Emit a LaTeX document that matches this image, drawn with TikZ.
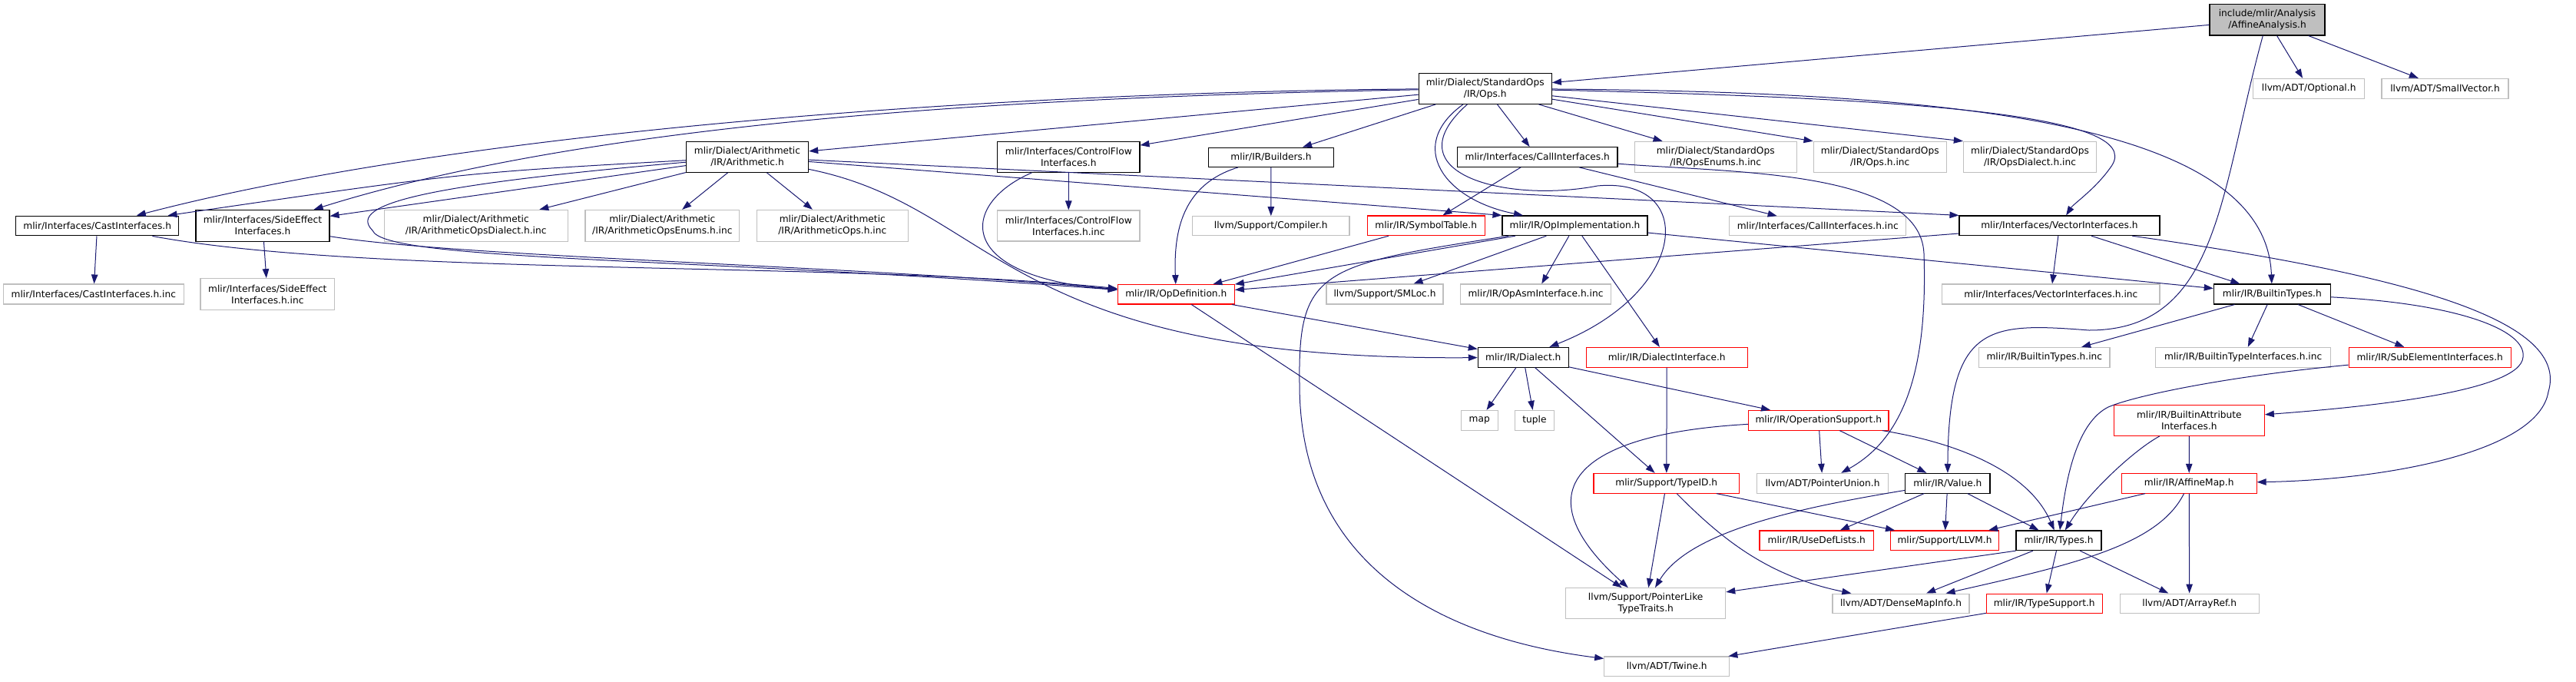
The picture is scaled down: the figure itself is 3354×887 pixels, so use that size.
\documentclass[tikz,border=0pt]{standalone}
\usepackage{fontspec}
\setmainfont{DejaVu Sans}
\usetikzlibrary{arrows.meta}
\definecolor{edgeblue}{RGB}{25,25,112}
\definecolor{leafgrey}{RGB}{191,191,191}
\definecolor{cutred}{RGB}{255,0,0}

\tikzset{
  hdr/.style={draw=black, fill=white, rectangle, inner sep=0pt, align=center,
    line width=1.1pt, font=\fontsize{12.2}{15}\selectfont},
  syshdr/.style={hdr, draw=leafgrey},
  cuthdr/.style={hdr, draw=cutred},
  roothdr/.style={hdr, fill=leafgrey},
  dep/.style={draw=edgeblue, line width=1pt, -{Triangle[length=12pt, width=8.5pt]}}
}

\begin{document}
\begin{tikzpicture}[x=1pt, y=-1pt]
  \useasboundingbox (0,0) rectangle (3354,887);

  \foreach \name/\x/\y/\w/\h/\kind/\txt in {
    aa/2952/25.8/150/40.3/roothdr/{include/mlir/Analysis\\/AffineAnalysis.h},
    ops/1933.7/115.2/173.3/40.3/hdr/{mlir/Dialect/StandardOps\\/IR/Ops.h},
    optional/3006.2/115.2/145/25.7/syshdr/{llvm/ADT/Optional.h},
    smallvec/3183.5/115.2/165/25.7/syshdr/{llvm/ADT/SmallVector.h},
    arith/973/204.3/159.3/40/hdr/{mlir/Dialect/Arithmetic\\/IR/Arithmetic.h},
    cflow/1391.3/204.3/185.3/40/hdr/{mlir/Interfaces/ControlFlow\\Interfaces.h},
    builders/1655/204.7/163.3/25.3/hdr/{mlir/IR/Builders.h},
    callif/2001.8/204.5/208.3/25.7/hdr/{mlir/Interfaces/CallInterfaces.h},
    opsenums/2233.7/204.3/210.7/40/syshdr/{mlir/Dialect/StandardOps\\/IR/OpsEnums.h.inc},
    opsinc/2447.7/204.3/173.3/40/syshdr/{mlir/Dialect/StandardOps\\/IR/Ops.h.inc},
    opsdialect/2643/204.3/173.3/40/syshdr/{mlir/Dialect/StandardOps\\/IR/OpsDialect.h.inc},
    cast/126.7/294/212/25.7/hdr/{mlir/Interfaces/CastInterfaces.h},
    sideeff/342/293.7/174/40.7/hdr/{mlir/Interfaces/SideEffect\\Interfaces.h},
    arithdialect/619.7/293.7/239.3/40.7/syshdr/{mlir/Dialect/Arithmetic\\/IR/ArithmeticOpsDialect.h.inc},
    arithenums/862.3/293.7/200.7/40.7/syshdr/{mlir/Dialect/Arithmetic\\/IR/ArithmeticOpsEnums.h.inc},
    arithops/1083.8/293.7/197/40.7/syshdr/{mlir/Dialect/Arithmetic\\/IR/ArithmeticOps.h.inc},
    cflowinc/1391.3/294/185.3/40/syshdr/{mlir/Interfaces/ControlFlow\\Interfaces.h.inc},
    compiler/1654.8/294.2/204.3/25/syshdr/{llvm/Support/Compiler.h},
    symtab/1856.7/293.8/153.3/25.7/cuthdr/{mlir/IR/SymbolTable.h},
    opimpl/2050.5/293.8/189/25.7/hdr/{mlir/IR/OpImplementation.h},
    callifinc/2366.7/294.2/230/25/syshdr/{mlir/Interfaces/CallInterfaces.h.inc},
    vecif/2681.5/293.8/261/25.7/hdr/{mlir/Interfaces/VectorInterfaces.h},
    castinc/121.8/383/235/26/syshdr/{mlir/Interfaces/CastInterfaces.h.inc},
    sideeffinc/348.3/383/174.7/40.7/syshdr/{mlir/Interfaces/SideEffect\\Interfaces.h.inc},
    opdef/1531.3/383.3/152/25.3/cuthdr/{mlir/IR/OpDefinition.h},
    smloc/1803/383/152/26/syshdr/{llvm/Support/SMLoc.h},
    opasminc/1999.5/383/195.7/26/syshdr/{mlir/IR/OpAsmInterface.h.inc},
    vecifinc/2670.3/383/283.3/26/syshdr/{mlir/Interfaces/VectorInterfaces.h.inc},
    btypes/2958.3/383/152/26/hdr/{mlir/IR/BuiltinTypes.h},
    dialect/1983.3/465.2/118/25.7/hdr/{mlir/IR/Dialect.h},
    dialectif/2170.2/465.2/210.3/25.7/cuthdr/{mlir/IR/DialectInterface.h},
    btypesinc/2661.8/465.2/170.3/25.7/syshdr/{mlir/IR/BuiltinTypes.h.inc},
    btypeifinc/2920.7/465.2/228/25.7/syshdr/{mlir/IR/BuiltinTypeInterfaces.h.inc},
    subelem/3163.7/465.2/211.3/25.7/cuthdr/{mlir/IR/SubElementInterfaces.h},
    map/1926.2/547.2/47.7/25.7/syshdr/{map},
    tuple/1998/547.2/51.3/25.7/syshdr/{tuple},
    opsupport/2367.8/547.2/182.3/25.7/cuthdr/{mlir/IR/OperationSupport.h},
    battrif/2850.3/547.2/196/40.3/cuthdr/{mlir/IR/BuiltinAttribute\\Interfaces.h},
    typeid/2169.8/629.2/189.7/25.7/cuthdr/{mlir/Support/TypeID.h},
    ptrunion/2373/629.2/170.7/25.7/syshdr/{llvm/ADT/PointerUnion.h},
    value/2535.8/629.2/110.3/25.7/hdr/{mlir/IR/Value.h},
    affinemap/2850.2/629.2/175.7/25.7/cuthdr/{mlir/IR/AffineMap.h},
    usedef/2365.3/703.8/148.7/25.7/cuthdr/{mlir/IR/UseDefLists.h},
    llvmh/2532/703.8/140.7/25.7/cuthdr/{mlir/Support/LLVM.h},
    types/2680.5/703.8/111/25.7/hdr/{mlir/IR/Types.h},
    ptrlike/2142.7/785.7/208/40/syshdr/{llvm/Support/PointerLike\\TypeTraits.h},
    densemap/2475/785.7/178/25.3/syshdr/{llvm/ADT/DenseMapInfo.h},
    typesupport/2661.7/785.7/150.7/25.3/cuthdr/{mlir/IR/TypeSupport.h},
    arrayref/2850.7/785.7/181.3/25.3/syshdr/{llvm/ADT/ArrayRef.h},
    twine/2170.2/867.8/163/25.7/syshdr/{llvm/ADT/Twine.h}}{
    \node[\kind, minimum width=\w pt, minimum height=\h pt] (\name) at (\x,\y) {\txt};
  }

  \foreach \a/\b in {
    aa/ops, aa/optional, aa/smallvec,
    ops/arith, ops/cflow, ops/builders, ops/callif, ops/opsenums,
    ops/opsinc.north west, ops/opsdialect.north west,
    arith/sideeff, arith/arithdialect, arith/arithenums, arith/arithops,
    arith/opimpl.north west, arith/vecif.north west,
    cflow/cflowinc, builders/compiler, callif/symtab, callif/callifinc,
    cast/castinc, sideeff/sideeffinc,
    symtab/opdef, opimpl/opdef, opimpl/smloc, opimpl/opasminc,
    opimpl/dialectif, opimpl/btypes,
    vecif/vecifinc, vecif/opdef, vecif/btypes,
    opdef/dialect, opdef/ptrlike,
    btypes/btypesinc, btypes/btypeifinc, btypes/subelem,
    dialect/map, dialect/tuple, dialect/typeid, dialect/opsupport,
    dialectif/typeid, opsupport/ptrunion, opsupport/value,
    battrif/affinemap, typeid/ptrlike, typeid/llvmh,
    value/usedef, value/llvmh, value/types,
    affinemap/llvmh, affinemap/arrayref,
    types.south west/ptrlike, types/densemap, types/typesupport, types/arrayref,
    typesupport/twine}{
    \draw[dep] (\a) -- (\b);
  }

  \draw[dep] (aa) .. controls (2890,250) and (2890,430) .. (2720,430)
    .. controls (2590,420) and (2537,420) .. (value);
  \draw[dep] (ops) .. controls (1300,120) and (600,170) .. (cast);
  \draw[dep] (ops) .. controls (1400,125) and (800,150) .. (sideeff);
  \draw[dep] (ops) .. controls (1830,190) and (1880,260) .. (opimpl);
  \draw[dep] (ops) .. controls (1810,225) and (1960,265) .. (2080,242)
    .. controls (2210,230) and (2200,380) .. (dialect);
  \draw[dep] (ops) .. controls (2500,120) and (2950,150) .. (btypes);
  \draw[dep] (ops) .. controls (2500,128) and (2790,150) .. (2750,215)
    .. controls (2730,245) and (2700,265) .. (vecif);
  \draw[dep] (arith) .. controls (600,225) .. (cast);
  \draw[dep] (arith) .. controls (560,240) and (450,265) .. (485,300)
    .. controls (500,340) and (900,335) .. (opdef);
  \draw[dep] (arith) .. controls (1300,270) and (1300,470) .. (dialect);
  \draw[dep] (cflow) .. controls (1250,265) and (1240,360) .. (opdef);
  \draw[dep] (builders) .. controls (1540,240) and (1528,300) .. (opdef);
  \draw[dep] (callif) .. controls (2250,225) and (2500,220) .. (2505,330)
    .. controls (2510,480) and (2480,570) .. (ptrunion);
  \draw[dep] (cast) .. controls (480,360) and (1100,340) .. (opdef);
  \draw[dep] (sideeff) .. controls (600,335) and (1100,345) .. (opdef);
  \draw[dep] (opimpl) .. controls (1720,345) and (1690,350) .. (1692,500)
    .. controls (1692,780) and (1950,840) .. (twine);
  \draw[dep] (vecif) .. controls (3150,360) and (3345,420) .. (3318,510)
    .. controls (3305,590) and (3100,625) .. (affinemap);
  \draw[dep] (btypes) .. controls (3200,395) and (3290,430) .. (3285,465)
    .. controls (3282,510) and (3080,530) .. (battrif);
  \draw[dep] (opsupport) .. controls (2540,575) and (2640,610) .. (types);
  \draw[dep] (opsupport) .. controls (2050,565) and (1980,640) .. (ptrlike);
  \draw[dep] (typeid) .. controls (2240,700) and (2300,750) .. (densemap);
  \draw[dep] (value) .. controls (2350,660) and (2200,690) .. (ptrlike);
  \draw[dep] (affinemap) .. controls (2810,710) and (2700,735) .. (densemap);
  \draw[dep] (battrif) .. controls (2780,585) and (2720,640) .. (types);
  \draw[dep] (subelem) .. controls (2900,490) and (2780,515) .. (2745,530)
    .. controls (2705,550) and (2690,620) .. (types);
\end{tikzpicture}
\end{document}
